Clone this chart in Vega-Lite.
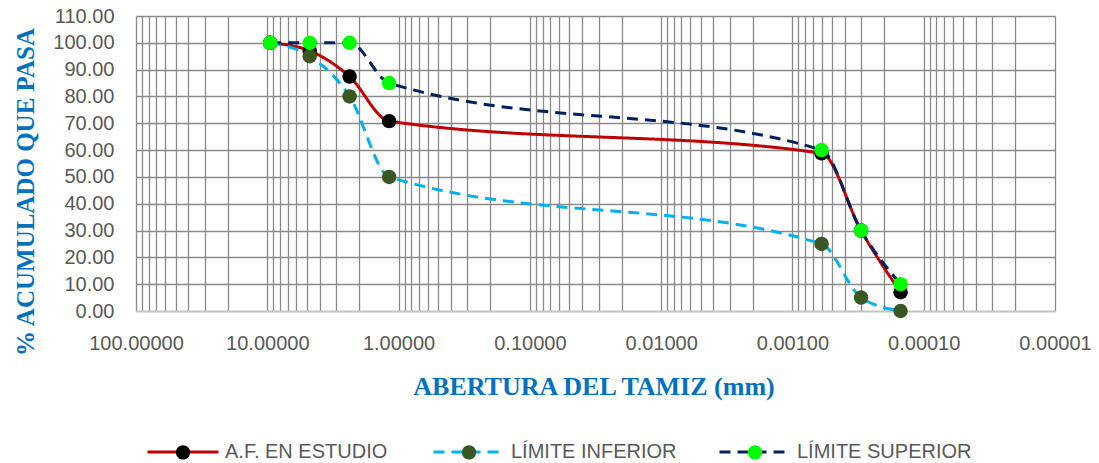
{
  "$schema": "https://vega.github.io/schema/vega-lite/v6.json",
  "width": 919,
  "height": 295,
  "autosize": {"type": "none"},
  "padding": {"left": 136, "top": 16, "right": 44, "bottom": 152},
  "background": "white",
  "config": {"view": {"stroke": null}, "font": "Liberation Sans"},
  "data": {
    "values": [
      {"serie": "A.F. EN ESTUDIO", "abertura": 9.5, "pasa": 100},
      {"serie": "A.F. EN ESTUDIO", "abertura": 4.75, "pasa": 97},
      {"serie": "A.F. EN ESTUDIO", "abertura": 2.36, "pasa": 87.4},
      {"serie": "A.F. EN ESTUDIO", "abertura": 1.18, "pasa": 70.8},
      {"serie": "A.F. EN ESTUDIO", "abertura": 0.0006, "pasa": 58.8},
      {"serie": "A.F. EN ESTUDIO", "abertura": 0.0003, "pasa": 30},
      {"serie": "A.F. EN ESTUDIO", "abertura": 0.00015, "pasa": 7},
      {"serie": "LÍMITE INFERIOR", "abertura": 9.5, "pasa": 100},
      {"serie": "LÍMITE INFERIOR", "abertura": 4.75, "pasa": 95},
      {"serie": "LÍMITE INFERIOR", "abertura": 2.36, "pasa": 80},
      {"serie": "LÍMITE INFERIOR", "abertura": 1.18, "pasa": 50},
      {"serie": "LÍMITE INFERIOR", "abertura": 0.0006, "pasa": 25},
      {"serie": "LÍMITE INFERIOR", "abertura": 0.0003, "pasa": 5},
      {"serie": "LÍMITE INFERIOR", "abertura": 0.00015, "pasa": 0},
      {"serie": "LÍMITE SUPERIOR", "abertura": 9.5, "pasa": 100},
      {"serie": "LÍMITE SUPERIOR", "abertura": 4.75, "pasa": 100},
      {"serie": "LÍMITE SUPERIOR", "abertura": 2.36, "pasa": 100},
      {"serie": "LÍMITE SUPERIOR", "abertura": 1.18, "pasa": 85},
      {"serie": "LÍMITE SUPERIOR", "abertura": 0.0006, "pasa": 60},
      {"serie": "LÍMITE SUPERIOR", "abertura": 0.0003, "pasa": 30},
      {"serie": "LÍMITE SUPERIOR", "abertura": 0.00015, "pasa": 10}
    ]
  },
  "encoding": {
    "x": {
      "field": "abertura",
      "type": "quantitative",
      "scale": {"type": "log", "domain": [0.00001, 100], "reverse": true, "nice": false},
      "axis": {
        "title": "ABERTURA DEL TAMIZ (mm)",
        "values": [100, 90, 80, 70, 60, 50, 40, 30, 20, 10, 9, 8, 7, 6, 5, 4, 3, 2, 1, 0.9, 0.8, 0.7, 0.6, 0.5, 0.4, 0.3, 0.2, 0.1, 0.09, 0.08, 0.07, 0.06, 0.05, 0.04, 0.03, 0.02, 0.01, 0.009, 0.008, 0.007, 0.006, 0.005, 0.004, 0.003, 0.002, 0.001, 0.0009, 0.0008, 0.0007, 0.0006, 0.0005, 0.0004, 0.0003, 0.0002, 0.0001, 0.00009, 0.00008, 0.00007, 0.00006, 0.00005, 0.00004, 0.00003, 0.00002, 0.00001],
        "labelExpr": "indexof([100, 10, 1, 0.1, 0.01, 0.001, 0.0001, 0.00001], datum.value) >= 0 ? format(datum.value, '.5f') : ''",
        "grid": true,
        "gridColor": "#8a8a8a",
        "gridWidth": 1.3,
        "domain": false,
        "ticks": false,
        "labelFont": "Liberation Sans",
        "labelFontSize": 20,
        "labelColor": "#595959",
        "labelPadding": 22,
        "labelOverlap": false,
        "labelFlush": false,
        "titleFont": "Liberation Serif",
        "titleFontSize": 26,
        "titleFontWeight": "bold",
        "titleColor": "#0070C0",
        "titleX": 457.5,
        "titleY": 83,
        "titleAlign": "center",
        "titleBaseline": "alphabetic"
      }
    },
    "y": {
      "field": "pasa",
      "type": "quantitative",
      "scale": {"domain": [0, 110], "nice": false},
      "axis": {
        "title": "% ACUMULADO QUE PASA",
        "values": [0, 10, 20, 30, 40, 50, 60, 70, 80, 90, 100, 110],
        "format": ".2f",
        "grid": true,
        "gridColor": {"condition": {"test": "datum.value === 0", "value": "#c4c4c4"}, "value": "#8a8a8a"},
        "gridWidth": {"condition": {"test": "datum.value === 0", "value": 2}, "value": 1.3},
        "domain": false,
        "ticks": false,
        "labelFont": "Liberation Sans",
        "labelFontSize": 20,
        "labelColor": "#595959",
        "labelPadding": 22,
        "titleFont": "Liberation Serif",
        "titleFontSize": 25,
        "titleFontWeight": "bold",
        "titleColor": "#0070C0",
        "titleAngle": -90,
        "titleX": -103,
        "titleY": 175.5,
        "titleAlign": "center",
        "titleBaseline": "alphabetic"
      }
    }
  },
  "layer": [
    {
      "mark": {"type": "line", "interpolate": "monotone", "strokeWidth": 3},
      "encoding": {
        "order": {"field": "abertura", "type": "quantitative", "sort": "descending"},
        "stroke": {
          "field": "serie",
          "type": "nominal",
          "scale": {"range": ["#C00000", "#00B0F0", "#002060"]},
          "legend": {
            "title": null,
            "orient": "none",
            "direction": "horizontal",
            "columns": 3,
            "gridAlign": "all",
            "legendX": 10,
            "legendY": 399,
            "symbolType": "stroke",
            "symbolSize": 5041,
            "symbolStrokeWidth": 3,
            "labelFont": "Liberation Sans",
            "labelFontSize": 20,
            "labelColor": "#595959",
            "labelLimit": 400,
            "labelOffset": 5,
            "columnPadding": 27,
            "zindex": 0,
            "encode": {
              "symbols": {
                "update": {
                  "strokeDash": {"signal": "datum.label === 'A.F. EN ESTUDIO' ? [1, 0] : [15, 41]"}
                }
              }
            }
          }
        },
        "strokeDash": {
          "field": "serie",
          "type": "nominal",
          "scale": {"range": [[1, 0], [11, 7], [11, 7]]},
          "legend": null
        }
      }
    },
    {
      "mark": {"type": "circle", "size": 210, "opacity": 1},
      "encoding": {
        "fill": {
          "field": "serie",
          "type": "nominal",
          "scale": {
            "domain": ["A.F. EN ESTUDIO", "LÍMITE INFERIOR", "LÍMITE SUPERIOR"],
            "range": ["#000000", "#385723", "#00FF00"]
          },
          "legend": {
            "title": null,
            "orient": "none",
            "direction": "horizontal",
            "columns": 3,
            "gridAlign": "all",
            "legendX": 10,
            "legendY": 399,
            "symbolType": "M-1,0M1,0M0.2,0A0.2,0.2 0 1,1 -0.2,0A0.2,0.2 0 1,1 0.2,0Z",
            "symbolSize": 5041,
            "symbolStrokeWidth": 3,
            "symbolStrokeColor": "transparent",
            "symbolOpacity": 1,
            "labelExpr": "''",
            "labelFontSize": 20,
            "labelOffset": 5,
            "columnPadding": 202,
            "zindex": 1
          }
        }
      }
    }
  ]
}
